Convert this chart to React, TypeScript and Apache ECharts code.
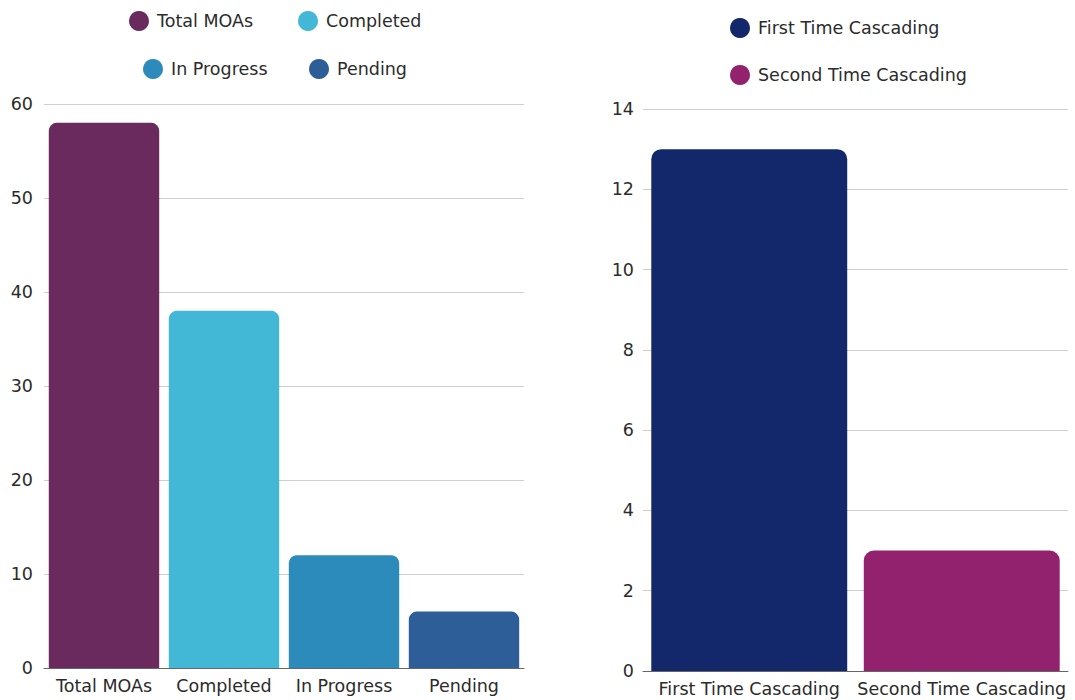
import React, { useEffect, useRef } from "react";
import * as echarts from "echarts";

const leftCategories = ["Total MOAs", "Completed", "In Progress", "Pending"];
const leftValues = [58, 38, 12, 6];
const leftColors = ["#6B2A5E", "#42B8D6", "#2C8BBA", "#2E5E98"];
const leftTicks = { min: 0, max: 60, interval: 10 };

const rightCategories = ["First Time Cascading", "Second Time Cascading"];
const rightValues = [13, 3];
const rightColors = ["#13286A", "#93226E"];
const rightTicks = { min: 0, max: 14, interval: 2 };

const FONT = "'DejaVu Sans', sans-serif";
const TEXT = "#2b2b2b";
const FS = 17.5;

export default function App() {
  const ref = useRef<HTMLDivElement>(null);
  useEffect(() => {
    if (!ref.current) return;
    const chart = echarts.init(ref.current, null, { renderer: "svg" });

    const legendBase = {
      icon: "circle",
      itemWidth: 20,
      itemHeight: 20,
      orient: "horizontal",
      textStyle: { fontFamily: FONT, fontSize: FS, color: TEXT, padding: [0, 0, 0, 3] },
      selectedMode: false,
      padding: 0,
    };
    const legendPos = [
      { left: 129, top: 11 },
      { left: 298, top: 11 },
      { left: 143, top: 59 },
      { left: 309, top: 59 },
      { left: 730, top: 18 },
      { left: 730, top: 65 },
    ];
    const allNames = [...leftCategories, ...rightCategories];
    const legends = allNames.map((n, i) => ({ ...legendBase, data: [n], ...legendPos[i] }));

    const axisLabel = { fontFamily: FONT, fontSize: FS, color: TEXT };

    const leftSeries = leftCategories.map((name, i) => ({
      name,
      type: "bar",
      xAxisIndex: 0,
      yAxisIndex: 0,
      stack: "left",
      barCategoryGap: "8%",
      data: leftValues.map((v, j) => (j === i ? v : "-")),
      itemStyle: { color: leftColors[i], borderRadius: [8, 8, 0, 0] },
    }));
    const rightSeries = rightCategories.map((name, i) => ({
      name,
      type: "bar",
      xAxisIndex: 1,
      yAxisIndex: 1,
      stack: "right",
      barCategoryGap: "7.8%",
      data: rightValues.map((v, j) => (j === i ? v : "-")),
      itemStyle: { color: rightColors[i], borderRadius: [10, 10, 0, 0] },
    }));

    chart.setOption({
      animation: false,
      legend: legends,
      grid: [
        { left: 44, right: 1075 - 524, top: 104, bottom: 700 - 668 },
        { left: 643, right: 7, top: 109, bottom: 700 - 671 },
      ],
      xAxis: [
        {
          type: "category",
          gridIndex: 0,
          data: leftCategories,
          axisTick: { show: false },
          axisLine: { lineStyle: { color: "#666", width: 1 } },
          axisLabel: { ...axisLabel, margin: 9, interval: 0 },
        },
        {
          type: "category",
          gridIndex: 1,
          data: rightCategories,
          axisTick: { show: false },
          axisLine: { lineStyle: { color: "#666", width: 1 } },
          axisLabel: { ...axisLabel, margin: 9, interval: 0 },
        },
      ],
      yAxis: [
        {
          type: "value",
          gridIndex: 0,
          ...leftTicks,
          axisLabel: { ...axisLabel, margin: 11 },
          splitLine: { lineStyle: { color: "#cfcfcf" } },
        },
        {
          type: "value",
          gridIndex: 1,
          ...rightTicks,
          axisLabel: { ...axisLabel, margin: 9 },
          splitLine: { lineStyle: { color: "#cfcfcf" } },
        },
      ],
      series: [...leftSeries, ...rightSeries],
    });
    return () => chart.dispose();
  }, []);
  return (
    <div
      ref={ref}
      style={{ position: "absolute", left: 0, top: 0, width: 1075, height: 700, background: "#fff" }}
    />
  );
}
